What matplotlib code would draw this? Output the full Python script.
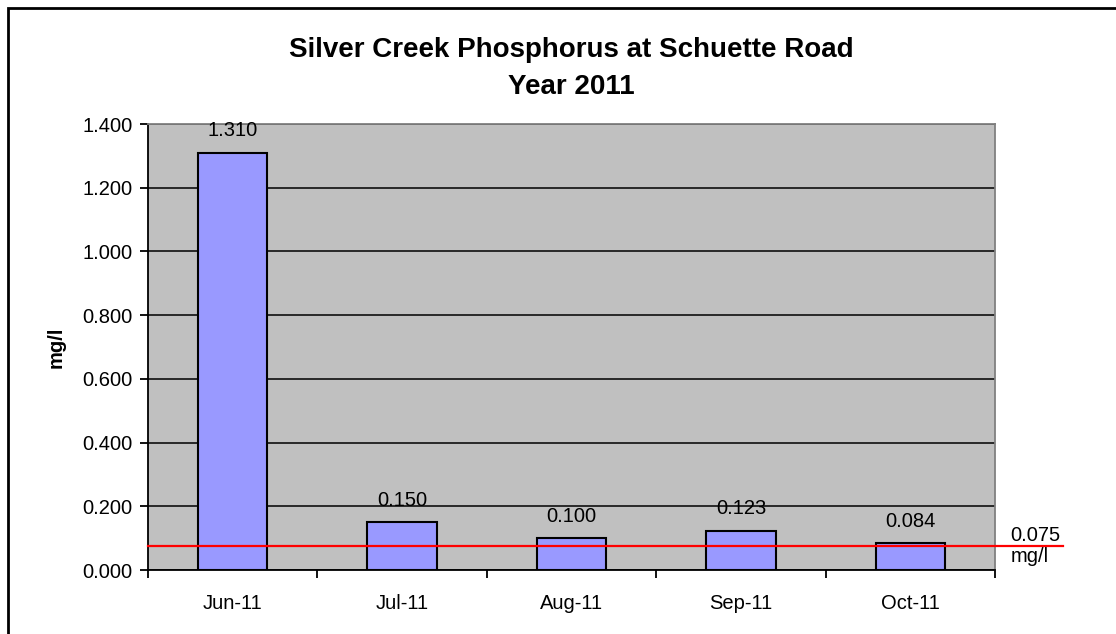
import matplotlib.pyplot as plt
from matplotlib.patches import Rectangle

plt.rcParams["font.family"] = ["Liberation Sans", "DejaVu Sans"]

months = ["Jun-11", "Jul-11", "Aug-11", "Sep-11", "Oct-11"]
phosphorus = [1.310, 0.150, 0.100, 0.123, 0.084]
threshold = 0.075
yticks = [0.0, 0.2, 0.4, 0.6, 0.8, 1.0, 1.2, 1.4]

fig = plt.figure(figsize=(11.16, 6.34), dpi=100)
ax = fig.add_axes([0.1326, 0.1009, 0.759, 0.7035])
ax.set_facecolor("#C0C0C0")

x = range(len(months))
bars = ax.bar(x, phosphorus, width=0.41, color="#9999FF",
              edgecolor="black", linewidth=1.5, zorder=3)

for b, v in zip(bars, phosphorus):
    ax.annotate(f"{v:.3f}", (b.get_x() + b.get_width() / 2, v),
                xytext=(0, 12), textcoords="offset points",
                ha="center", va="baseline", fontsize=14.5, zorder=5)

# threshold line runs past the plot area to its label
ax.axhline(threshold, xmin=0, xmax=1.08, color="red", linewidth=1.6,
           clip_on=False, zorder=4)
ax.text(1.018, threshold, "0.075\nmg/l", transform=ax.get_yaxis_transform(),
        ha="left", va="center", fontsize=14.5, linespacing=1.15)

ax.set_xlim(-0.5, len(months) - 0.5)
ax.set_ylim(0, 1.4)
ax.set_yticks(yticks)
ax.set_yticklabels([f"{t:.3f}" for t in yticks], fontsize=14.5)
ax.yaxis.grid(True, color="black", linewidth=1.1, zorder=1)
ax.set_axisbelow(True)

ax.set_xticks(list(x))
ax.set_xticklabels(months, fontsize=14.5)
ax.set_xticks([i - 0.5 for i in range(len(months) + 1)], minor=True)
ax.tick_params(axis="x", which="major", length=0, pad=17)
ax.tick_params(axis="x", which="minor", length=6, width=1.3, direction="out")
ax.tick_params(axis="y", length=6, width=1.3, direction="out", pad=5)

ax.spines["left"].set_linewidth(1.3)
ax.spines["bottom"].set_linewidth(1.3)
ax.spines["top"].set_color("#808080")
ax.spines["right"].set_color("#808080")
ax.spines["top"].set_linewidth(1.3)
ax.spines["right"].set_linewidth(1.3)

ax.set_ylabel("mg/l", fontsize=14.5, fontweight="bold", labelpad=12)

fig.text(0.512, 0.892, "Silver Creek Phosphorus at Schuette Road\nYear 2011",
         ha="center", va="center", fontsize=20, fontweight="bold",
         linespacing=1.55)

# chart frame
fig.patches.append(Rectangle((8 / 1116, -0.05), 1.1, 1 - 8 / 634 + 0.05,
                             transform=fig.transFigure, fill=False,
                             edgecolor="black", linewidth=2))

fig.savefig("out.png", dpi=100)
